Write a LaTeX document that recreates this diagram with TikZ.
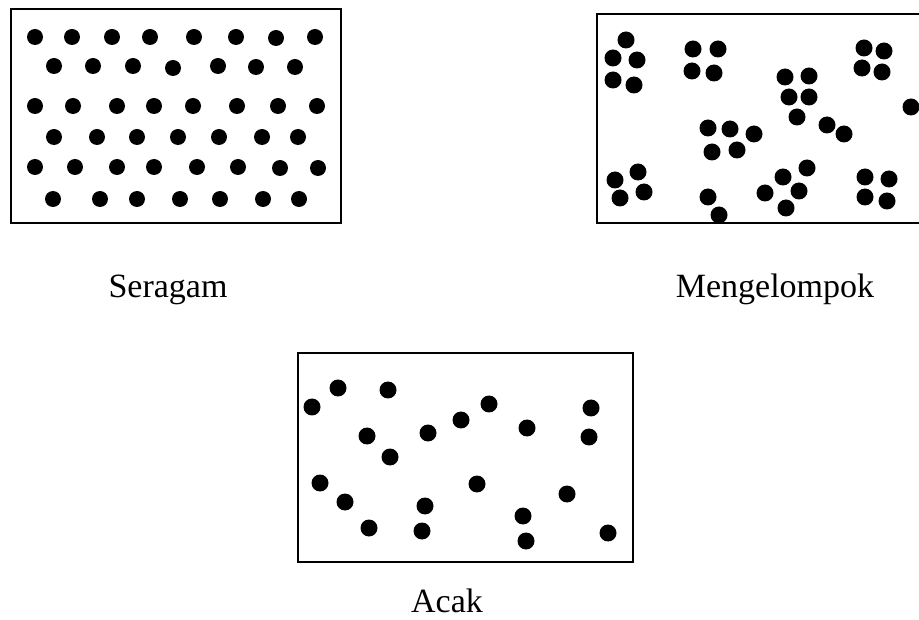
\documentclass[tikz,border=0pt]{standalone}
\usepackage{fontspec}
\setmainfont{Liberation Serif}

\begin{document}
\begin{tikzpicture}[x=1pt, y=-1pt, line width=1.6pt,
    dot/.style={fill=black},
    label/.style={font=\fontsize{34}{40}\selectfont, anchor=base}]
  \useasboundingbox (0,0) rectangle (919,620);
  % Seragam
  \draw (11,9) rectangle (341,223);
  \foreach \x/\y in {35/37,72/37,112/37,150/37,194/37,236/37,276/38,315/37,
                     54/66,93/66,133/66,173/68,218/66,256/67,295/67,
                     35/106,73/106,117/106,154/106,193/106,237/106,278/106,317/106,
                     54/137,97/137,137/137,178/137,219/137,262/137,298/137,
                     35/167,75/167,117/167,154/167,197/167,238/167,280/168,318/168,
                     53/199,100/199,137/199,180/199,220/199,263/199,299/199}
    \fill[dot] (\x,\y) circle (8);
  \node[label] (seragam) at (168,298) {Seragam};
  % Mengelompok
  \draw (930,14) -- (597,14) -- (597,223) -- (930,223);
  \foreach \x/\y in {626/40,613/58,637/60,613/80,634/85,
                     693/49,718/49,692/71,714/73,
                     864/48,884/51,862/68,882/72,
                     785/77,809/76,789/97,809/97,797/117,827/125,844/134,
                     911/107,
                     708/128,730/129,754/134,712/152,737/150,
                     638/172,615/180,644/192,620/198,
                     708/197,719/215,
                     807/168,783/177,799/191,765/193,786/208,
                     865/177,889/179,865/197,887/201}
    \fill[dot] (\x,\y) circle (8.5);
  \node[label] (mengelompok) at (775,298) {Mengelompok};
  % Acak
  \draw (298,353) rectangle (633,562);
  \foreach \x/\y in {312/407,338/388,388/390,367/436,390/457,428/433,461/420,
                     489/404,527/428,591/408,589/437,320/483,345/502,369/528,
                     425/506,422/531,477/484,523/516,526/541,567/494,608/533}
    \fill[dot] (\x,\y) circle (8.5);
  \node[label] (acak) at (447,612) {Acak};
\end{tikzpicture}
\end{document}
